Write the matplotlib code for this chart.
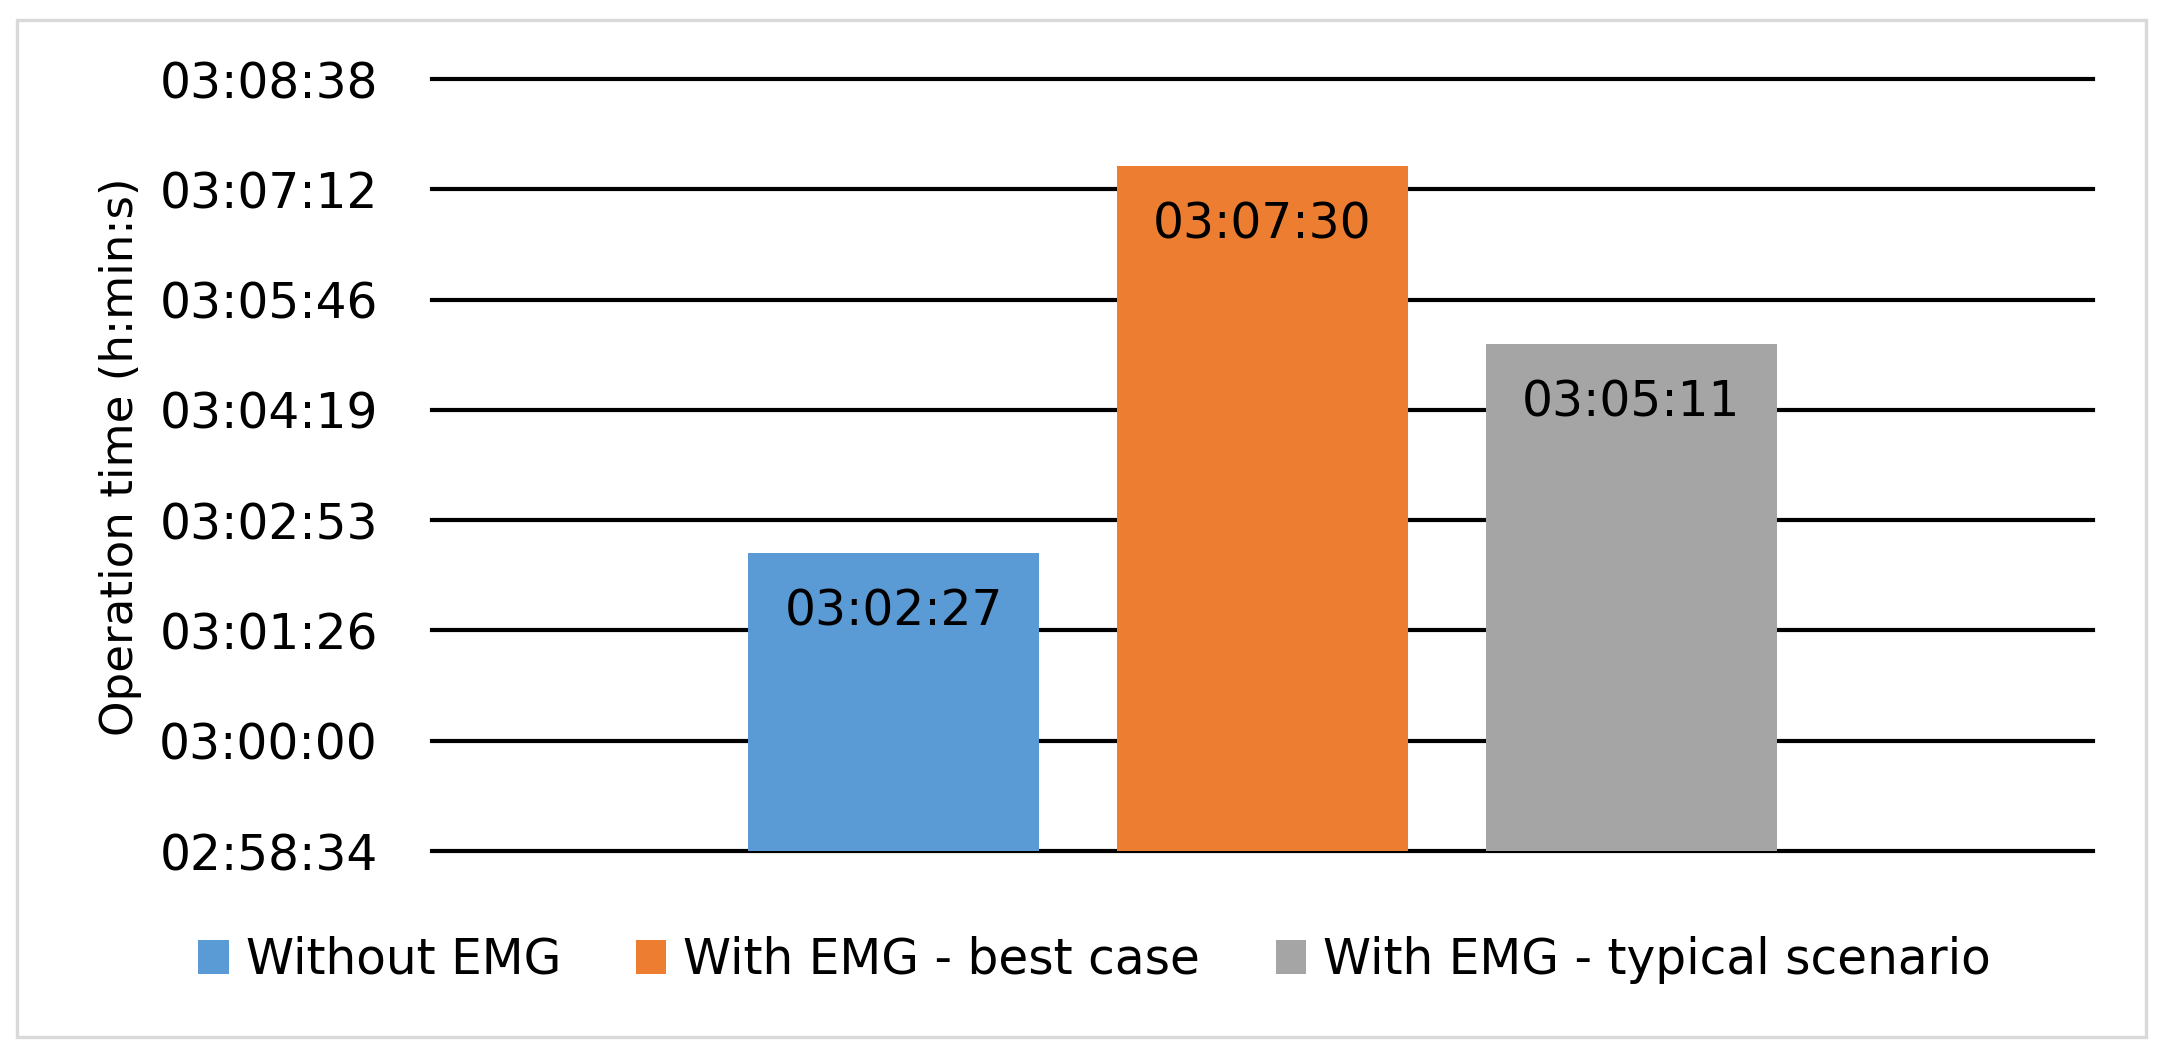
import matplotlib
matplotlib.use("Agg")
import matplotlib.pyplot as plt
from matplotlib.patches import Rectangle, Patch
from matplotlib.ticker import FixedLocator, FuncFormatter

# data (h:min:s)
series_names = ["Without EMG", "With EMG - best case", "With EMG - typical scenario"]
series_times = ["03:02:27", "03:07:30", "03:05:11"]
series_colors = ["#5B9BD5", "#ED7D31", "#A5A5A5"]

# excel axis in fractions of a day: 0.124 .. 0.131 step 0.001
axis_min_days = 0.124
axis_max_days = 0.131
axis_step_days = 0.001


def to_sec(s):
    h, m, sec = s.split(":")
    return int(h) * 3600 + int(m) * 60 + int(sec)


def fmt_hms(v, pos=None):
    v = int(round(v))
    return "%02d:%02d:%02d" % (v // 3600, (v % 3600) // 60, v % 60)


plt.rcParams['font.family'] = ['DejaVu Sans']
FS = 35

values = [to_sec(t) for t in series_times]
ymin = axis_min_days * 86400
ymax = axis_max_days * 86400
nticks = int(round((axis_max_days - axis_min_days) / axis_step_days)) + 1
yticks = [ymin + i * axis_step_days * 86400 for i in range(nticks)]

fig = plt.figure(figsize=(21.6, 10.59), dpi=100)

# light grey chart frame
fig.patches.append(Rectangle((17 / 2160, 1 - 1037 / 1059), (2146 - 17) / 2160, (1037 - 20) / 1059,
                             transform=fig.transFigure, fill=False, edgecolor="#d9d9d9", lw=2.4))

ax = fig.add_axes([0.2, 0.1964, 0.769, 0.729])

bar_w = 0.175
gap = 0.222
xs = [0.5 + (i - 1) * gap for i in range(len(values))]
for x, v, c, name in zip(xs, values, series_colors, series_names):
    ax.bar(x, v - ymin, bottom=ymin, width=bar_w, color=c, zorder=3, label=name)
    ax.annotate(fmt_hms(v), (x, v), xytext=(0, -42), textcoords="offset points",
                ha="center", va="center", fontsize=FS, color="black", zorder=4)

ax.set_xlim(0, 1)
ax.set_ylim(ymin, ymax)
ax.yaxis.set_major_locator(FixedLocator(yticks))
ax.yaxis.set_major_formatter(FuncFormatter(fmt_hms))
ax.set_xticks([])
ax.tick_params(axis="y", length=0, pad=39, labelsize=FS, labelcolor="black")
for sp in ax.spines.values():
    sp.set_visible(False)
ax.yaxis.grid(True, color="black", lw=3.0, zorder=0)
ax.set_axisbelow(True)
for gl in ax.get_ygridlines():
    gl.set_clip_on(False)

fig.text(121 / 2160, 1 - 457 / 1059, "Operation time (h:min:s)", rotation=90,
         ha="center", va="center", fontsize=32.5, color="black")

handles = [Patch(facecolor=c, edgecolor="none") for c in series_colors]
fig.legend(handles, series_names, loc="center", bbox_to_anchor=(0.5067, 0.0935), ncol=3,
           frameon=False, fontsize=FS, handlelength=0.62, handleheight=0.68,
           handletextpad=0.35, columnspacing=1.55, borderpad=0)

fig.savefig("out.png", dpi=100)
